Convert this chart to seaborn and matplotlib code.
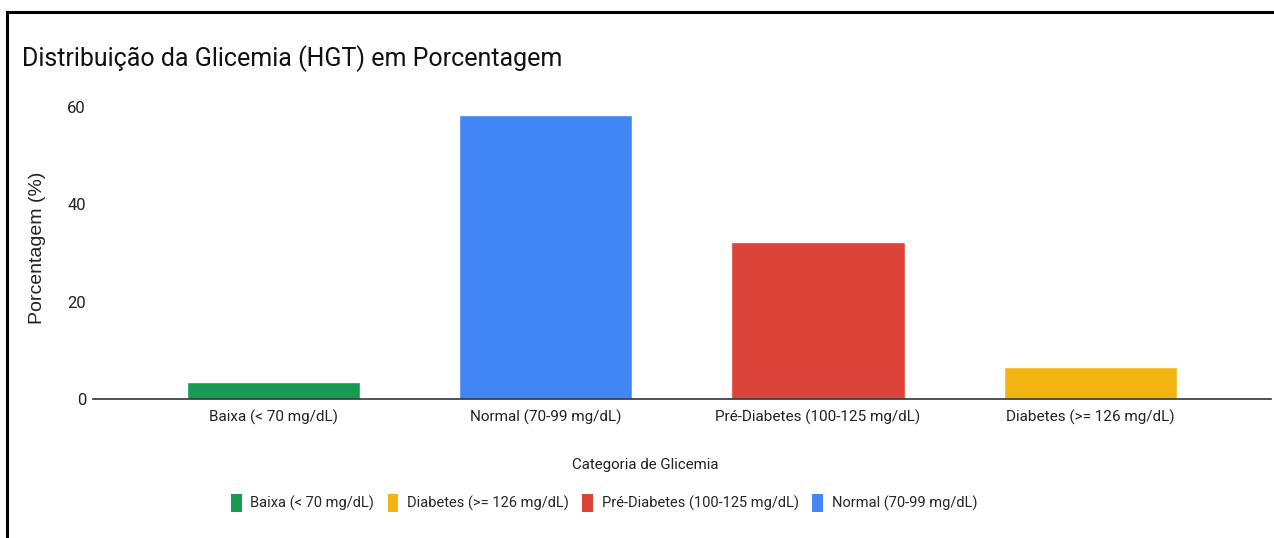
import numpy as np
import matplotlib
matplotlib.use("Agg")
import matplotlib.pyplot as plt
from matplotlib.patches import Patch, Rectangle
import seaborn as sns

# Dados
categorias = ["Baixa (< 70 mg/dL)", "Normal (70-99 mg/dL)",
              "Pré-Diabetes (100-125 mg/dL)", "Diabetes (>= 126 mg/dL)"]
porcentagens = [3.4, 58.3, 32.2, 6.5]
cores = ["#179a52", "#4285f4", "#db4437", "#f2b40f"]
ordem_legenda = ["Baixa (< 70 mg/dL)", "Diabetes (>= 126 mg/dL)",
                 "Pré-Diabetes (100-125 mg/dL)", "Normal (70-99 mg/dL)"]
yticks = [0, 20, 40, 60]

sns.set_style("white")
plt.rcParams["font.family"] = ["Roboto", "DejaVu Sans"]

fig = plt.figure(figsize=(12.74, 5.38), dpi=100)
ax = fig.add_axes([0.073, 0.2584, 0.9246, 0.5613])

paleta = dict(zip(categorias, cores))
sns.barplot(x=categorias, y=porcentagens, hue=categorias, palette=paleta,
            order=categorias, hue_order=categorias, width=0.636,
            saturation=1, legend=False, ax=ax)

ax.set_xlim(-0.665, 3.665)
ax.set_ylim(0, 62)
ax.set_yticks(yticks)
ax.tick_params(axis="y", length=0, pad=5, labelsize=12, colors="#222222")
ax.tick_params(axis="x", length=0, pad=8, labelsize=11, colors="#222222")
for s in ["top", "right", "left"]:
    ax.spines[s].set_visible(False)
ax.spines["bottom"].set_color("#333333")
ax.spines["bottom"].set_linewidth(1.2)

ax.set_ylabel("Porcentagem (%)", family=["Liberation Sans", "DejaVu Sans"],
              fontsize=14, color="#222222", labelpad=15)
ax.set_xlabel("Categoria de Glicemia", fontsize=10.8, color="#222222")
ax.xaxis.set_label_coords(0.4686, -0.195)

fig.text(22 / 1274, 1 - 59 / 538, "Distribuição da Glicemia (HGT) em Porcentagem",
         fontsize=18, va="center", ha="left", color="#111111")

handles = [Patch(facecolor=paleta[c], edgecolor="none") for c in ordem_legenda]
fig.legend(handles, ordem_legenda, loc="center", bbox_to_anchor=(604 / 1274, 1 - 503 / 538),
           ncol=4, frameon=False, fontsize=10.5, handlelength=0.75, handleheight=1.5,
           handletextpad=0.6, columnspacing=0.9)

# moldura preta em volta da figura
fig.patches.append(Rectangle((7 / 1274, -0.2), 1.3, 1.2 - 12 / 538,
                             transform=fig.transFigure, fill=False,
                             edgecolor="black", linewidth=2.2))

fig.savefig("out.png", dpi=100)
